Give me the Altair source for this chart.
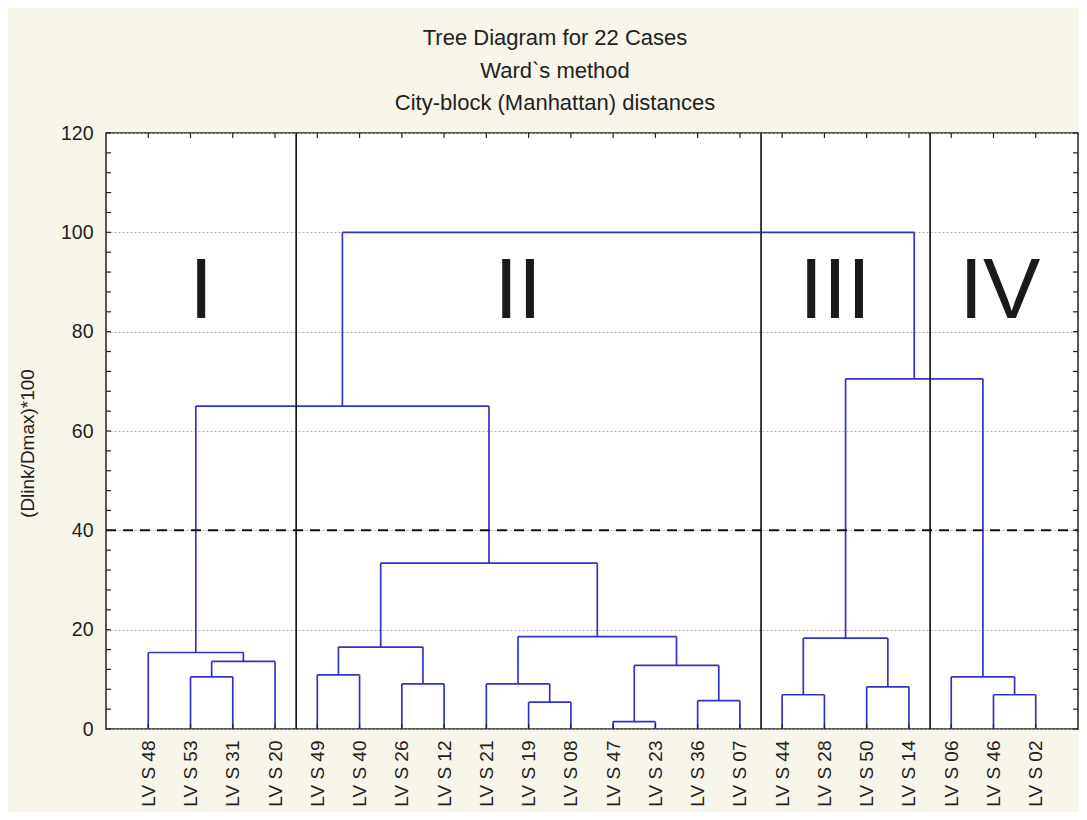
import altair as alt
import pandas as pd

# ---------------- data ----------------
leaves = ["LV S 48", "LV S 53", "LV S 31", "LV S 20", "LV S 49", "LV S 40",
          "LV S 26", "LV S 12", "LV S 21", "LV S 19", "LV S 08", "LV S 47",
          "LV S 23", "LV S 36", "LV S 07", "LV S 44", "LV S 28", "LV S 50",
          "LV S 14", "LV S 06", "LV S 46", "LV S 02"]

# linkage: strings are leaves, ints refer to earlier merges
merge_left = ["LV S 53", 0, "LV S 48", "LV S 49", "LV S 26", 3, "LV S 19",
              "LV S 21", "LV S 47", "LV S 36", 8, 7, 5, 2, "LV S 44",
              "LV S 50", 14, "LV S 46", "LV S 06", 16, 13]
merge_right = ["LV S 31", "LV S 20", 1, "LV S 40", "LV S 12", 4, "LV S 08",
               6, "LV S 23", "LV S 07", 9, 10, 11, 12, "LV S 28", "LV S 14",
               15, "LV S 02", 17, 18, 19]
merge_height = [10.5, 13.6, 15.4, 10.9, 9.1, 16.5, 5.4, 9.1, 1.5, 5.7, 12.8,
                18.6, 33.4, 65.0, 6.9, 8.5, 18.3, 6.9, 10.5, 70.5, 100.0]

cluster_names = ["I", "II", "III", "IV"]
cluster_sizes = [4, 11, 4, 3]
numeral_x = [2.25, 9.75, 17.25, 21.15]
numeral_y = [82.7, 82.7, 82.7, 82.7]

cut_height = [40]
y_label_values = [0, 20, 40, 60, 80, 100, 120]
y_tick_values = list(range(0, 121, 4))

# ---------------- derived tables ----------------
leaf_pos = {name: i + 1 for i, name in enumerate(leaves)}
node = []
segs = []


def where(ref):
    if isinstance(ref, str):
        return leaf_pos[ref], 0.0
    return node[ref]


for a, b, h in zip(merge_left, merge_right, merge_height):
    xa, ha = where(a)
    xb, hb = where(b)
    segs.append({"x": xa, "x2": xa, "y": ha, "y2": h})
    segs.append({"x": xb, "x2": xb, "y": hb, "y2": h})
    segs.append({"x": xa, "x2": xb, "y": h, "y2": h})
    node.append(((xa + xb) / 2, h))
seg_df = pd.DataFrame(segs)

bounds = []
acc = 0
for s in cluster_sizes[:-1]:
    acc += s
    bounds.append(acc + 0.5)
sep_df = pd.DataFrame({"x": bounds, "y": [0] * len(bounds), "y2": [120] * len(bounds)})
num_df = pd.DataFrame({"label": cluster_names, "x": numeral_x, "y": numeral_y})
cut_df = pd.DataFrame({"y": cut_height, "x": [0], "x2": [len(leaves) + 1]})
ytick_df = pd.DataFrame({"y": y_tick_values})
xtick_df = pd.DataFrame({"x": list(range(1, len(leaves) + 1))})

# ---------------- scales / axes ----------------
FONT = "Liberation Sans"
W, H = 972, 596
xscale = alt.Scale(domain=[0, len(leaves) + 1], nice=False, zero=False)
yscale = alt.Scale(domain=[0, 120], nice=False)

label_js = "[" + ",".join("'%s'" % n for n in leaves) + "][datum.value - 1]"
x_axis = alt.Axis(values=list(range(1, len(leaves) + 1)), labelExpr=label_js,
                  labelAngle=270, labelPadding=11, labelFontSize=19,
                  labelFont=FONT, labelColor="#222222", ticks=False,
                  domain=False, grid=False, title=None, labelOverlap=False)
y_axis = alt.Axis(values=y_label_values, labelFontSize=19.5, labelFont=FONT,
                  labelColor="#222222", labelPadding=13, ticks=False,
                  domain=False, grid=True, gridDash=[2, 2], gridColor="#B4B4B4",
                  gridWidth=1, title="(Dlink/Dmax)*100", titleFont=FONT,
                  titleFontSize=19, titleFontWeight="normal",
                  titleColor="#222222", titleX=-79, titleY=310,
                  titleAngle=270, titleAlign="center", titleBaseline="middle")


def X(field):
    return alt.X(field + ":Q", scale=xscale, axis=x_axis)


def Y(field):
    return alt.Y(field + ":Q", scale=yscale, axis=y_axis)


dendro = alt.Chart(seg_df).mark_rule(color="#3232C8", strokeWidth=1.7).encode(
    x=X("x"), x2="x2:Q", y=Y("y"), y2="y2:Q",
)

seps = alt.Chart(sep_df).mark_rule(color="#1A1A1A", strokeWidth=1.7).encode(
    x=X("x"), y=Y("y"), y2="y2:Q",
)

cut = alt.Chart(cut_df).mark_rule(color="#111111", strokeWidth=2,
                                  strokeDash=[10, 7]).encode(
    x=X("x"), x2="x2:Q", y=Y("y"),
)

numerals = alt.Chart(num_df).mark_text(font=FONT, fontSize=86, color="#1A1A1A",
                                       baseline="alphabetic", align="center").encode(
    x=X("x"), y=Y("y"), text="label:N",
)

tick_style = dict(color="#222222", strokeWidth=1.2)
ytick_left = alt.Chart(ytick_df).mark_rule(**tick_style).encode(
    y=Y("y"), x=alt.value(0), x2=alt.value(5))
ytick_right = alt.Chart(ytick_df).mark_rule(**tick_style).encode(
    y=Y("y"), x=alt.value(W - 5), x2=alt.value(W))
xtick_top = alt.Chart(xtick_df).mark_rule(**tick_style).encode(
    x=X("x"), y=alt.value(0), y2=alt.value(5))
xtick_bottom = alt.Chart(xtick_df).mark_rule(**tick_style).encode(
    x=X("x"), y=alt.value(H - 5), y2=alt.value(H))

chart = alt.layer(
    dendro, seps, cut, numerals, ytick_left, ytick_right, xtick_top, xtick_bottom
).properties(
    width=W,
    height=H,
    autosize=alt.AutoSizeParams(type="none"),
    padding={"left": 98, "top": 125, "right": 1, "bottom": 83},
    background="#F8F5EA",
    title=alt.TitleParams(
        text=["Tree Diagram for 22 Cases", "Ward`s method",
              "City-block (Manhattan) distances"],
        font=FONT, fontSize=22, fontWeight="normal", color="#222222",
        lineHeight=32.5, anchor="middle", dx=-37, offset=8,
    ),
).configure_view(
    fill="white", stroke="#222222", strokeWidth=1.5
)

chart.save("out.html", embed_options={"renderer": "svg", "actions": False})
